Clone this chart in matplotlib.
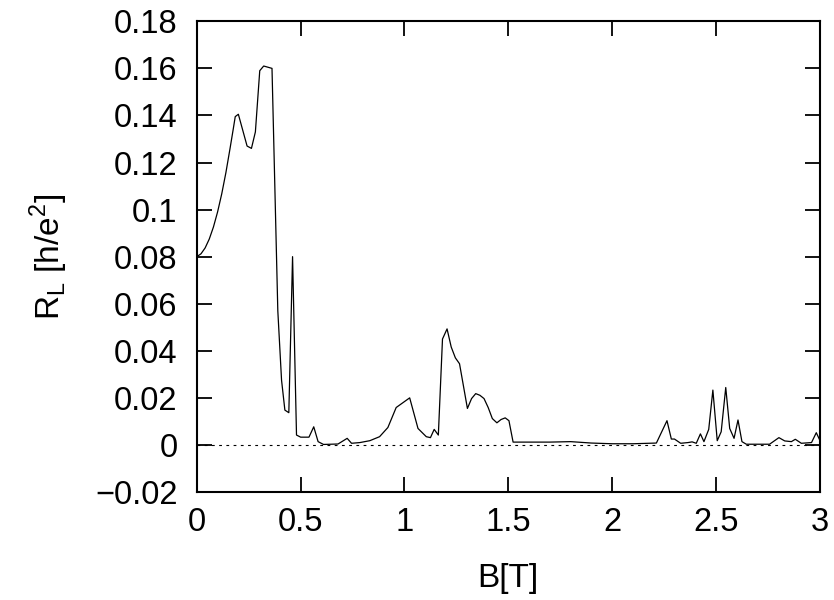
import numpy as np
import matplotlib
matplotlib.use("Agg")
import matplotlib.pyplot as plt
from matplotlib.ticker import FuncFormatter

B = [0, 0.02, 0.04, 0.06, 0.08, 0.1, 0.12, 0.14, 0.16, 0.175, 0.185, 0.2, 0.242,
     0.263, 0.282, 0.303, 0.322, 0.362, 0.39, 0.408, 0.424, 0.443, 0.461, 0.48,
     0.50, 0.54, 0.563, 0.584, 0.61, 0.68, 0.724, 0.745, 0.785, 0.833, 0.88, 0.92,
     0.96, 1.025, 1.065, 1.105, 1.125, 1.143, 1.163, 1.183, 1.205, 1.225, 1.245,
     1.265, 1.303, 1.323, 1.343, 1.363, 1.383, 1.403, 1.423, 1.445, 1.465, 1.485,
     1.503, 1.523, 1.6, 1.7, 1.8, 1.9, 2.0, 2.1, 2.213, 2.264, 2.285, 2.3, 2.33,
     2.365, 2.385, 2.405, 2.425, 2.442, 2.465, 2.485, 2.506, 2.525, 2.547, 2.566,
     2.587, 2.606, 2.625, 2.646, 2.758, 2.803, 2.831, 2.863, 2.882, 2.911, 2.96,
     2.983, 3.0]
R = [0.080, 0.0812, 0.0837, 0.0875, 0.0926, 0.099, 0.1067, 0.1157, 0.126, 0.134,
     0.1395, 0.1405, 0.127, 0.126, 0.133, 0.159, 0.161, 0.160, 0.057, 0.0275,
     0.0148, 0.0137, 0.080, 0.0042, 0.0033, 0.0033, 0.0077, 0.0014, 0.0002,
     0.0004, 0.0028, 0.0007, 0.001, 0.0018, 0.0035, 0.0074, 0.0159, 0.020, 0.007,
     0.0035, 0.0031, 0.0066, 0.0042, 0.045, 0.0493, 0.0416, 0.037, 0.0345, 0.0155,
     0.0197, 0.0218, 0.0211, 0.0197, 0.0159, 0.0112, 0.0094, 0.0108, 0.0115,
     0.0103, 0.0012, 0.0012, 0.0012, 0.0014, 0.0008, 0.0005, 0.0005, 0.0008,
     0.0103, 0.0025, 0.0025, 0.0007, 0.001, 0.0013, 0.0007, 0.0047, 0.0014,
     0.0066, 0.0233, 0.0018, 0.0056, 0.0244, 0.007, 0.0028, 0.0106, 0.0014,
     0.0003, 0.0003, 0.0031, 0.0017, 0.0014, 0.0024, 0.0007, 0.001, 0.0052, 0.002]

xticks = [0, 0.5, 1, 1.5, 2, 2.5, 3]
yticks = [-0.02, 0, 0.02, 0.04, 0.06, 0.08, 0.1, 0.12, 0.14, 0.16, 0.18]

plt.rcParams['font.family'] = ['Liberation Sans', 'DejaVu Sans']
plt.rcParams['mathtext.fontset'] = 'custom'
plt.rcParams['mathtext.rm'] = 'Liberation Sans'

fig = plt.figure(figsize=(8.34, 6.0), dpi=100)
ax = fig.add_axes([0.236, 0.18, 0.747, 0.7845])

ax.plot([0, 3], [0, 0], color='black', lw=0.8, ls=(0, (2.5, 4)))
ax.plot(B, R, color='black', lw=0.9)

ax.set_xlim(0, 3)
ax.set_ylim(-0.02, 0.18)
ax.set_xticks(xticks)
ax.set_yticks(yticks)

def fmt(v, pos):
    s = f"{round(v, 4):g}"
    return s.replace('-', '\u2212')

ax.xaxis.set_major_formatter(FuncFormatter(fmt))
ax.yaxis.set_major_formatter(FuncFormatter(fmt))

ax.tick_params(direction='in', length=11, width=1.3, top=True, right=True,
               labelsize=23.5)
ax.tick_params(axis='y', pad=14)
ax.tick_params(axis='x', pad=11)
for s in ax.spines.values():
    s.set_linewidth(1.5)

ax.set_xlabel('B[T]', fontsize=24, labelpad=18)
ax.set_ylabel(r'R$_\mathregular{L}$ [h/e$^\mathregular{2}$]', fontsize=24, labelpad=18)

fig.savefig('out.png', dpi=100)
